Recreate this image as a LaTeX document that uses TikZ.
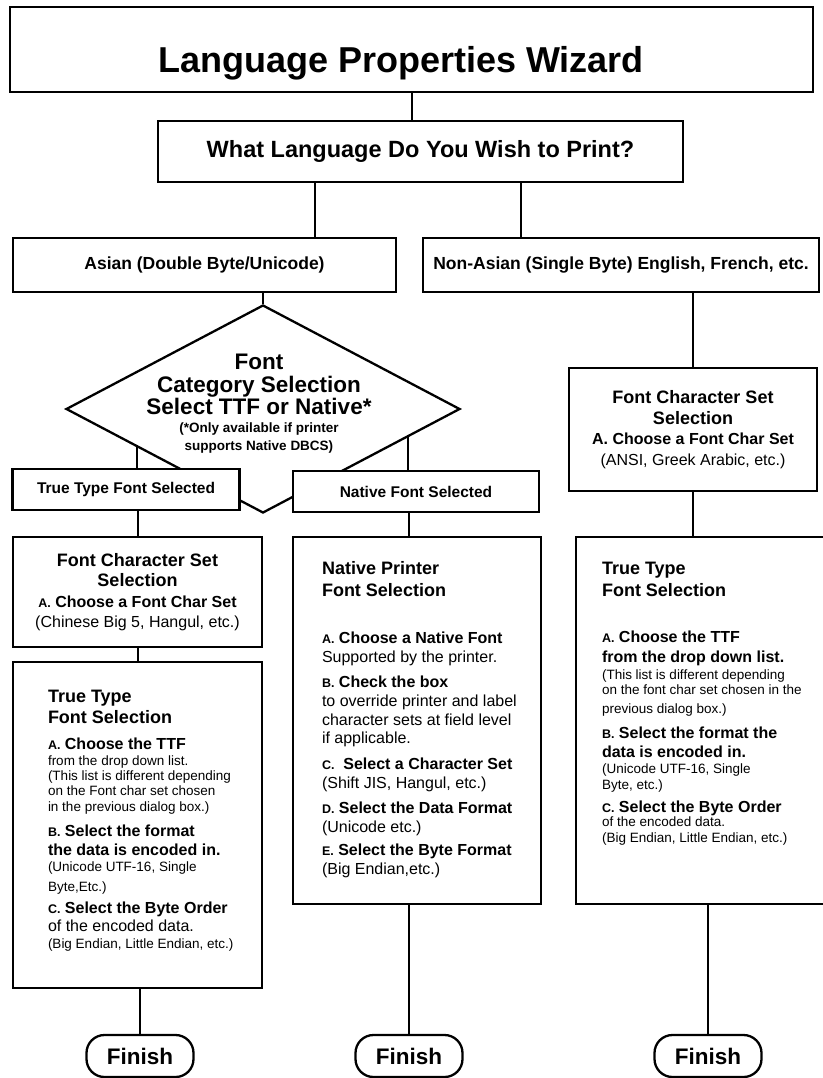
\documentclass[tikz,border=0pt]{standalone}
\usepackage{fontspec}
\setmainfont{Liberation Sans}
\usetikzlibrary{shapes.geometric, calc}

\newcommand{\fixskip}{\lineskiplimit=-100pt\relax}
\newcommand{\hd}[1]{{\bfseries\fontsize{18}{18}\selectfont #1}}
\newcommand{\bd}[1]{{\bfseries\fontsize{16}{18}\selectfont #1}}
\newcommand{\stp}[2]{\bd{{\fontsize{12.5}{18}\selectfont #1.} #2}}
\newcommand{\rg}[1]{{\fontsize{16}{18}\selectfont #1}}
\newcommand{\sm}[1]{{\fontsize{13.5}{15}\selectfont #1}}

\tikzset{
  every picture/.style={line width=2.3pt},
  box/.style={draw=black, fill=white, inner sep=0pt, align=center, font=\bfseries\fontsize{17.5}{20}\selectfont},
  charset/.style={box, font=\fontsize{16}{20.5}\selectfont\fixskip},
  title/.style={font=\bfseries\fontsize{36}{40}\selectfont, inner sep=0pt},
  decision/.style={draw=black, diamond, inner sep=0pt},
  body/.style={anchor=north west, inner sep=0pt, align=left, font=\fontsize{13.5}{15}\selectfont\fixskip},
  finish/.style={draw=black, fill=white, rounded corners=18pt, minimum width=107pt, minimum height=42pt, inner sep=0pt, font=\bfseries\fontsize{22.5}{24}\selectfont},
  link/.style={draw=black, line width=2pt},
}

\begin{document}
\begin{tikzpicture}[x=1pt, y=-1pt]
  \path[use as bounding box, fill=white] (0,0) rectangle (822,1078);

  % top
  \node[box, minimum width=803pt, minimum height=85pt] (wiz) at (411.5,49.5) {};
  \node[title, anchor=base] (wiztxt) at (401,73) {Language Properties Wizard};
  \node[box, minimum width=525pt, minimum height=61pt, font=\bfseries\fontsize{23.5}{26}\selectfont] (q) at (420.5,151.5) {What Language Do You Wish to Print?};
  \node[box, minimum width=383pt, minimum height=54pt] (asian) at (204.5,265) {Asian (Double Byte/Unicode)};
  \node[box, minimum width=396pt, minimum height=54pt] (nonasian) at (621,265) {Non-Asian (Single Byte) English, French, etc.};

  % asian branch
  \node[decision, minimum width=394pt, minimum height=208pt] (cat) at (263,409) {};
  \node[anchor=north, inner sep=0pt, align=center, font=\bfseries\fontsize{22.5}{18}\selectfont\fixskip] (cattxt) at (259,353) {Font\\[5pt]
    Category Selection\\[4pt]
    Select TTF or Native*\\
    {\fontsize{13.5}{18}\selectfont(*Only available if printer}\\
    {\fontsize{13.5}{18}\selectfont supports Native DBCS)}};
  \node[box, minimum width=227pt, minimum height=41pt, font=\bfseries\fontsize{15.5}{18}\selectfont] (ttfsel) at (126,489.5) {True Type Font Selected};
  \node[box, minimum width=246pt, minimum height=41pt, font=\bfseries\fontsize{15.5}{18}\selectfont] (natsel) at (416,491.5) {Native Font Selected};

  \node[charset, minimum width=249pt, minimum height=110pt] (fcsL) at (137.5,592) {\hd{Font Character Set}\\ \hd{Selection}\\ \stp{A}{Choose a Font Char Set}\\ \rg{(Chinese Big 5, Hangul, etc.)}};

  \node[box, minimum width=249pt, minimum height=326pt] (ttfL) at (137.5,825) {};
  \node[body] (ttfLtxt) at ([shift={(35,28)}]ttfL.north west) {\hd{True Type}\\[6pt]
    \hd{Font Selection}\\[11pt]
    \stp{A}{Choose the TTF}\\[1pt]
    \sm{from the drop down list.}\\
    \sm{(This list is different depending}\\
    \sm{on the Font char set chosen}\\[1pt]
    \sm{in the previous dialog box.)}\\[10pt]
    \stp{B}{Select the format}\\[4pt]
    \bd{the data is encoded in.}\\[1pt]
    \sm{(Unicode UTF-16, Single}\\[5pt]
    \sm{Byte,Etc.)}\\[7pt]
    \stp{C}{Select the Byte Order}\\[3pt]
    \rg{of the encoded data.}\\[2pt]
    \sm{(Big Endian, Little Endian, etc.)}};

  \node[box, minimum width=248pt, minimum height=367pt] (nps) at (417,720.5) {};
  \node[body] (npstxt) at ([shift={(29,24)}]nps.north west) {\hd{Native Printer}\\[7pt]
    \hd{Font Selection}\\[32pt]
    \stp{A}{Choose a Native Font}\\[4pt]
    \rg{Supported by the printer.}\\[10pt]
    \stp{B}{Check the box}\\[4pt]
    \rg{to override printer and label}\\[4pt]
    \rg{character sets at field level}\\[3pt]
    \rg{if applicable.}\\[11pt]
    \stp{C}{\ Select a Character Set}\\[4pt]
    \rg{(Shift JIS, Hangul, etc.)}\\[10pt]
    \stp{D}{Select the Data Format}\\[4pt]
    \rg{(Unicode etc.)}\\[8pt]
    \stp{E}{Select the Byte Format}\\[4pt]
    \rg{(Big Endian,etc.)}};

  % non-asian branch
  \node[charset, minimum width=248pt, minimum height=123pt] (fcsR) at (693,429.5) {\hd{Font Character Set}\\ \hd{Selection}\\ \bd{A. Choose a Font Char Set}\\ \rg{(ANSI, Greek Arabic, etc.)}};

  \node[box, minimum width=266pt, minimum height=367pt] (ttfR) at (709,720.5) {};
  \node[body] (ttfRtxt) at ([shift={(26,25)}]ttfR.north west) {\hd{True Type}\\[7pt]
    \hd{Font Selection}\\[31pt]
    \stp{A}{Choose the TTF}\\[5pt]
    \bd{from the drop down list.}\\[2pt]
    \sm{(This list is different depending}\\
    \sm{on the font char set chosen in the}\\[4pt]
    \sm{previous dialog box.)}\\[10pt]
    \stp{B}{Select the format the}\\[4pt]
    \bd{data is encoded in.}\\[1pt]
    \sm{(Unicode UTF-16, Single}\\[1pt]
    \sm{Byte, etc.)}\\[8pt]
    \stp{C}{Select the Byte Order}\\[-1pt]
    \sm{of the encoded data.}\\[1pt]
    \sm{(Big Endian, Little Endian, etc.)}};

  % finish
  \node[finish] (fin1) at (140,1056) {Finish};
  \node[finish] (fin2) at (409,1056) {Finish};
  \node[finish] (fin3) at (708,1056) {Finish};

  % connectors
  \coordinate (qa) at ($(q.south west)!0.3!(q.south east)$);
  \coordinate (qb) at ($(q.south west)!0.69!(q.south east)$);
  \draw[link] (wiz.south) -- (wiz.south |- q.north);
  \draw[link] (qa) -- (qa |- asian.north);
  \draw[link] (qb) -- (qb |- nonasian.north);
  \draw[link] (asian.south -| cat.north) -- (cat.north);
  \draw[link] (cat.197) -- (cat.197 |- ttfsel.north);
  \draw[link] (cat.-11) -- (cat.-11 |- natsel.north);
  \draw[link] (ttfsel.south -| fcsL.north) -- (fcsL.north);
  \draw[link] (fcsL.south) -- (ttfL.north);
  \draw[link] (ttfL.south -| fin1.north) -- (fin1.north);
  \draw[link] (natsel.south -| fin2.north) -- (nps.north -| fin2.north);
  \draw[link] (nps.south -| fin2.north) -- (fin2.north);
  \draw[link] (nonasian.south -| fcsR.north) -- (fcsR.north);
  \draw[link] (fcsR.south) -- (fcsR.south |- ttfR.north);
  \draw[link] (ttfR.south -| fin3.north) -- (fin3.north);
\end{tikzpicture}
\end{document}
